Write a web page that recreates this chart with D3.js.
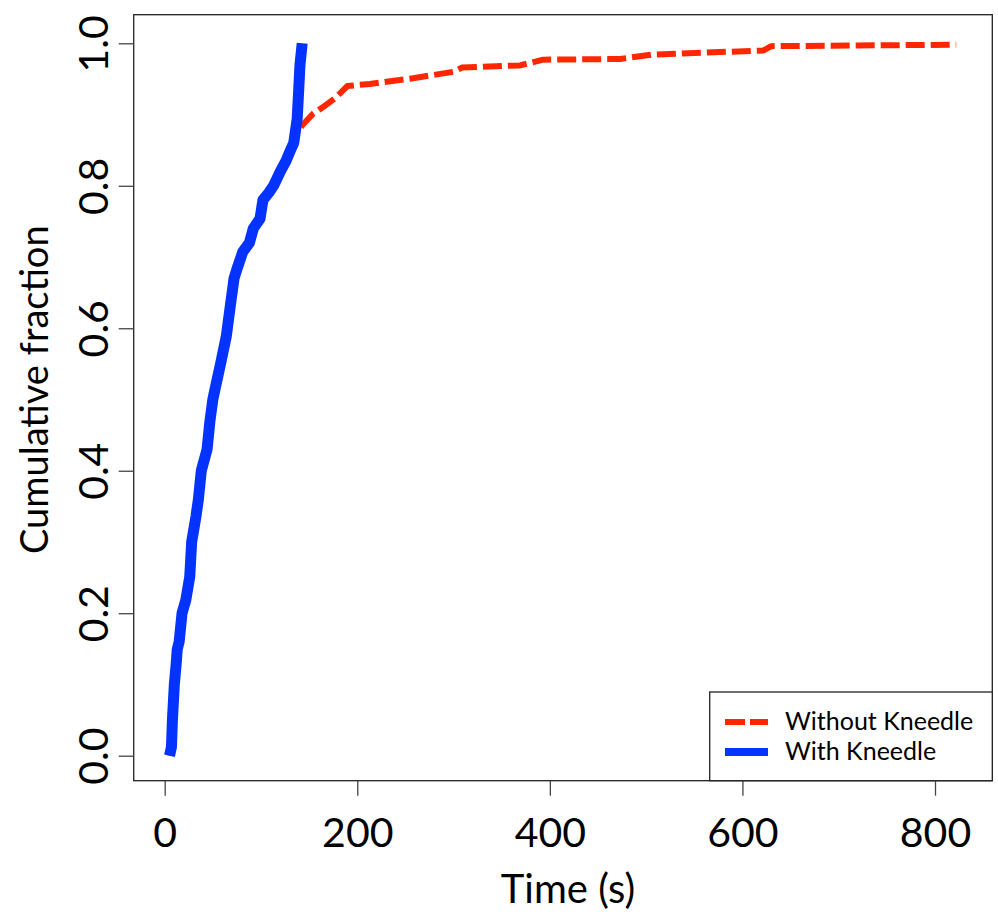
<!DOCTYPE html>
<html>
<head>
<meta charset="utf-8">
<script src="https://cdn.jsdelivr.net/npm/d3@7/dist/d3.min.js"></script>
<style>
  body { margin: 0; background: #fff; }
  svg { display: block; }
  text { font-family: Lato, "Open Sans", sans-serif; fill: #000; }
</style>
</head>
<body>
<svg id="chart" width="998" height="914"></svg>
<script>
// ---- data ----
const seriesNames = ["Without Kneedle", "With Kneedle"];
const seriesColors = ["#ff2600", "#0433ff"];

// "With Kneedle" cumulative fraction (time in s, fraction)
const withTime = [5, 7, 8, 10, 12, 13, 15, 18, 22, 26, 28, 32.5, 35, 38, 44, 47, 50, 53, 58, 64, 68, 72, 75, 81, 88, 92, 99, 102, 108, 113, 120, 126, 130, 134, 137.6, 139, 140.5, 142.8];
const withFrac = [0.0, 0.012, 0.05, 0.1, 0.13, 0.149, 0.16, 0.2, 0.219, 0.251, 0.3, 0.336, 0.36, 0.4, 0.43, 0.47, 0.5, 0.519, 0.55, 0.589, 0.63, 0.67, 0.683, 0.707, 0.72, 0.74, 0.754, 0.78, 0.79, 0.8, 0.82, 0.835, 0.848, 0.86, 0.894, 0.93, 0.97, 1.0];

// "Without Kneedle" cumulative fraction
const withoutTime = [5, 7, 8, 10, 12, 13, 15, 18, 22, 26, 28, 32.5, 35, 38, 44, 47, 50, 53, 58, 64, 68, 72, 75, 81, 88, 92, 99, 102, 108, 113, 120, 126, 130, 134, 138, 142.8, 154, 166, 177, 189.6, 213, 258, 300, 309, 369, 393, 473, 505, 622, 630, 822];
const withoutFrac = [0.0, 0.012, 0.05, 0.1, 0.13, 0.149, 0.16, 0.2, 0.219, 0.251, 0.3, 0.336, 0.36, 0.4, 0.43, 0.47, 0.5, 0.519, 0.55, 0.589, 0.63, 0.67, 0.683, 0.707, 0.72, 0.74, 0.754, 0.78, 0.79, 0.8, 0.82, 0.835, 0.848, 0.86, 0.875, 0.885, 0.901, 0.912, 0.923, 0.94, 0.943, 0.951, 0.96, 0.966, 0.969, 0.977, 0.978, 0.984, 0.99, 0.996, 0.998];

const xTicks = [0, 200, 400, 600, 800];
const yTicks = [0, 0.2, 0.4, 0.6, 0.8, 1.0];
const xTitle = "Time (s)";
const yTitle = "Cumulative fraction";

// ---- layout ----
const box = { left: 133.7, right: 992.3, top: 14.7, bottom: 780.7 };
const x = d3.scaleLinear().domain([0, 800]).range([164.7, 935]);
const y = d3.scaleLinear().domain([0, 1]).range([755.7, 43.3]);

const svg = d3.select("#chart");

// lines
const line = d3.line().x(d => x(d[0])).y(d => y(d[1]));
const withoutData = withoutTime.map((t, i) => [t, withoutFrac[i]]);
const withData = withTime.map((t, i) => [t, withFrac[i]]);

svg.append("path").datum(withoutData)
  .attr("d", line).attr("fill", "none")
  .attr("stroke", seriesColors[0]).attr("stroke-width", 6)
  .attr("stroke-dasharray", "19,6").attr("stroke-linejoin", "round");

svg.append("path").datum(withData)
  .attr("d", line).attr("fill", "none")
  .attr("stroke", seriesColors[1]).attr("stroke-width", 11)
  .attr("stroke-linejoin", "round");

// box
svg.append("rect")
  .attr("x", box.left).attr("y", box.top)
  .attr("width", box.right - box.left).attr("height", box.bottom - box.top)
  .attr("fill", "none").attr("stroke", "#222").attr("stroke-width", 1.3);

// x axis
const xAxis = d3.axisBottom(x).tickValues(xTicks).tickSize(15).tickPadding(10)
  .tickFormat(d3.format("d"));
const gx = svg.append("g").attr("transform", `translate(0,${box.bottom})`).call(xAxis);
gx.select(".domain").remove();
gx.selectAll(".tick line").attr("stroke", "#444").attr("stroke-width", 1.3);
gx.selectAll(".tick text").attr("font-size", 41).attr("font-family", "Lato, sans-serif")
  .attr("dy", null).attr("y", 66);

// y axis
const yAxis = d3.axisLeft(y).tickValues(yTicks).tickSize(15).tickFormat(d3.format(".1f"));
const gy = svg.append("g").attr("transform", `translate(${box.left},0)`).call(yAxis);
gy.select(".domain").remove();
gy.selectAll(".tick line").attr("stroke", "#444").attr("stroke-width", 1.3);
gy.selectAll(".tick text")
  .attr("font-size", 41).attr("font-family", "Lato, sans-serif")
  .attr("x", null).attr("dy", null)
  .attr("text-anchor", "middle")
  .attr("transform", "translate(-26,0) rotate(-90)")
  .attr("y", 0);

// titles
svg.append("text").attr("x", 568).attr("y", 903)
  .attr("text-anchor", "middle").attr("font-size", 40).text(xTitle);
svg.append("text")
  .attr("transform", `translate(48,${(box.top + box.bottom) / 2 - 8}) rotate(-90)`)
  .attr("text-anchor", "middle").attr("font-size", 38).text(yTitle);

// legend
const lg = { left: 709.7, top: 692, right: box.right, bottom: box.bottom };
svg.append("rect").attr("x", lg.left).attr("y", lg.top)
  .attr("width", lg.right - lg.left).attr("height", lg.bottom - lg.top)
  .attr("fill", "#fff").attr("stroke", "#222").attr("stroke-width", 1.3);
const legendRows = [
  { name: seriesNames[0], color: seriesColors[0], width: 6, dash: "20,5", cy: 722 },
  { name: seriesNames[1], color: seriesColors[1], width: 8, dash: null, cy: 752 }
];
legendRows.forEach(r => {
  svg.append("line").attr("x1", 725).attr("x2", 768).attr("y1", r.cy).attr("y2", r.cy)
    .attr("stroke", r.color).attr("stroke-width", r.width)
    .attr("stroke-dasharray", r.dash);
  svg.append("text").attr("x", 785).attr("y", r.cy + 8)
    .attr("font-size", 25).text(r.name);
});
</script>
</body>
</html>
